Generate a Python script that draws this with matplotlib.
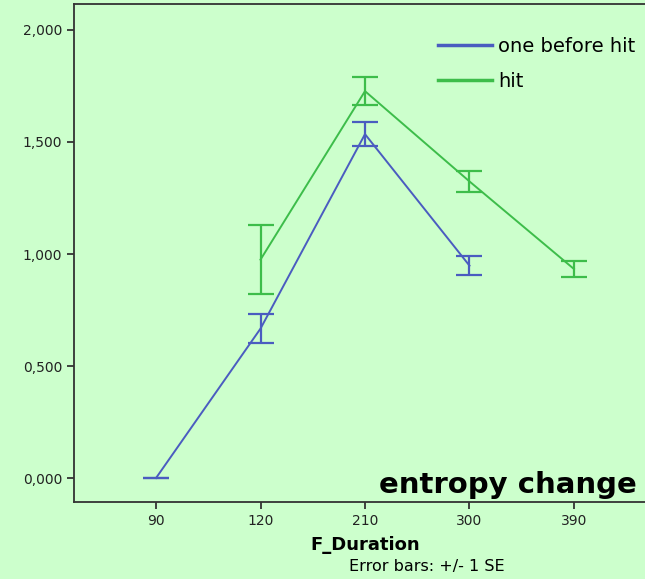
import numpy as np
import matplotlib.pyplot as plt
from matplotlib.ticker import FuncFormatter

durations = ["90", "120", "210", "300", "390"]

before_x = [0, 1, 2, 3]
before_mean = [0.000, 0.667, 1.535, 0.948]
before_se = [0.000, 0.065, 0.054, 0.043]

hit_x = [1, 2, 3, 4]
hit_mean = [0.975, 1.727, 1.324, 0.933]
hit_se = [0.154, 0.063, 0.047, 0.037]

bg = "#ccffcc"
blue = "#4a5cc0"
green = "#3dbd4a"

fig = plt.figure(figsize=(6.45, 5.79), dpi=100, facecolor=bg)
ax = fig.add_axes([74 / 645, 77 / 579, 582 / 645, 498 / 579])
ax.set_facecolor(bg)

ax.errorbar(before_x, before_mean, yerr=before_se, color=blue, lw=1.4,
            capsize=9.5, capthick=1.6, elinewidth=1.6, label="one before hit")
ax.errorbar(hit_x, hit_mean, yerr=hit_se, color=green, lw=1.4,
            capsize=9.5, capthick=1.6, elinewidth=1.6, label="hit")

ax.set_xlim(-0.785, 4.785)
ax.set_ylim(-0.107, 2.116)
ax.set_xticks(range(len(durations)))
ax.set_xticklabels(durations)
ax.set_yticks([0, 0.5, 1.0, 1.5, 2.0])
ax.yaxis.set_major_formatter(FuncFormatter(lambda v, p: f"{v:.3f}".replace(".", ",")))
ax.tick_params(labelsize=10, length=5, width=1.3, color="#333333", labelcolor="#222222")
ax.spines["right"].set_visible(False)
for side in ["left", "bottom", "top"]:
    ax.spines[side].set_linewidth(1.3)
    ax.spines[side].set_color("#333333")

ax.set_xlabel("F_Duration", fontsize=13, fontweight="bold", labelpad=6)
fig.text(427 / 645, 1 - 566 / 579, "Error bars: +/- 1 SE", ha="center", va="center",
         fontsize=11.5)

fig.text(637 / 645, 1 - 485 / 579, "entropy change", ha="right", va="center",
         fontsize=21, fontweight="heavy")

labels = ["one before hit", "hit"]
handles = [plt.Line2D([], [], color=blue, lw=2.5), plt.Line2D([], [], color=green, lw=2.5)]
fig.legend(handles, labels, loc="upper left", bbox_to_anchor=(438 / 645, 1 - 37 / 579),
           frameon=False, handlelength=2.8, handletextpad=0.3, borderpad=0,
           borderaxespad=0, labelspacing=0.8, prop={"size": 14})

fig.savefig("out.png", dpi=100, facecolor=bg)
